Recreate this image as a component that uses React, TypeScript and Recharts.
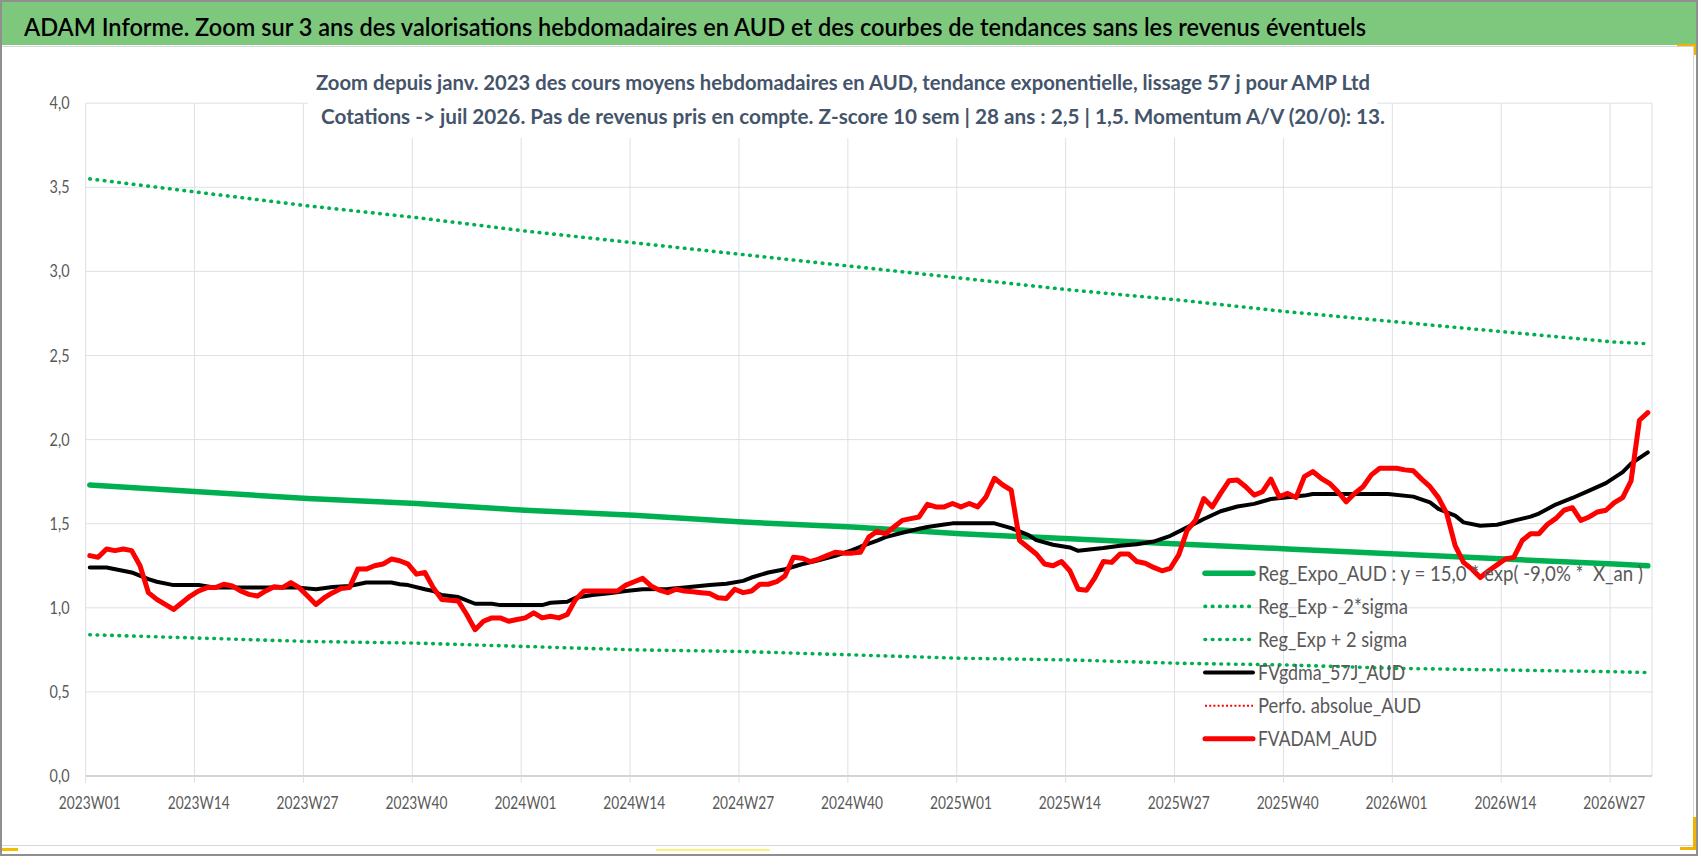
import React from "react";
import { CartesianGrid, Legend, Line, LineChart, XAxis, YAxis } from "recharts";

// weekly categories, 2023W01 -> 2026W31
const years = [2023, 2024, 2025, 2026];
const weeksInYear = [52, 52, 52, 31];
const weeks: string[] = years.flatMap((y, j) =>
    Array.from({ length: weeksInYear[j] }, (_, w) => `${y}W${String(w + 1).padStart(2, "0")}`)
);

const tickLabels = [
    "2023W01", "2023W14", "2023W27", "2023W40",
    "2024W01", "2024W14", "2024W27", "2024W40",
    "2025W01", "2025W14", "2025W27", "2025W40",
    "2026W01", "2026W14", "2026W27",
];
const yTicks = [0, 0.5, 1, 1.5, 2, 2.5, 3, 3.5, 4];

// FVADAM_AUD, one value per week
const fvadam = [
    1.31, 1.30, 1.35, 1.34, 1.35, 1.34, 1.25, 1.09, 1.05, 1.02,
    0.99, 1.03, 1.07, 1.10, 1.12, 1.12, 1.14, 1.13, 1.10, 1.08,
    1.07, 1.10, 1.125, 1.12, 1.15, 1.12, 1.07, 1.02, 1.06, 1.09,
    1.115, 1.12, 1.23, 1.23, 1.25, 1.26, 1.29, 1.28, 1.26, 1.20,
    1.21, 1.12, 1.05, 1.045, 1.04, 0.96, 0.87, 0.92, 0.94, 0.94,
    0.92, 0.93, 0.94, 0.97, 0.94, 0.95, 0.94, 0.96, 1.05, 1.10,
    1.10, 1.10, 1.10, 1.10, 1.135, 1.155, 1.175, 1.13, 1.105, 1.09,
    1.11, 1.10, 1.095, 1.09, 1.085, 1.06, 1.055, 1.11, 1.09, 1.10,
    1.14, 1.14, 1.155, 1.19, 1.30, 1.295, 1.275, 1.29, 1.31, 1.33,
    1.325, 1.325, 1.33, 1.42, 1.455, 1.44, 1.48, 1.52, 1.53, 1.54,
    1.615, 1.60, 1.60, 1.62, 1.60, 1.62, 1.60, 1.66, 1.77, 1.73,
    1.70, 1.40, 1.36, 1.32, 1.26, 1.25, 1.275, 1.22, 1.11, 1.105,
    1.18, 1.275, 1.27, 1.32, 1.32, 1.275, 1.265, 1.24, 1.22, 1.235,
    1.315, 1.46, 1.52, 1.65, 1.60, 1.68, 1.755, 1.76, 1.72, 1.67,
    1.69, 1.765, 1.66, 1.68, 1.655, 1.78, 1.81, 1.77, 1.74, 1.69,
    1.63, 1.68, 1.72, 1.79, 1.83, 1.83, 1.83, 1.82, 1.815, 1.765,
    1.72, 1.655, 1.56, 1.37, 1.27, 1.23, 1.18, 1.22, 1.255, 1.29,
    1.30, 1.40, 1.44, 1.44, 1.495, 1.53, 1.58, 1.595, 1.52, 1.54,
    1.57, 1.58, 1.625, 1.655, 1.755, 2.115, 2.16,
];

// FVgdma_57J_AUD, [week index, value]
const gdmaPoints: [number, number][] = [
    [0, 1.24], [2, 1.24], [5, 1.21], [7, 1.17], [8, 1.155], [10, 1.135], [13, 1.135], [15, 1.12],
    [19, 1.12], [25, 1.12], [27, 1.11], [29, 1.124], [31, 1.13], [33, 1.15], [36, 1.15], [37, 1.14],
    [38, 1.135], [40, 1.11], [41, 1.10], [42, 1.076], [44, 1.064], [46, 1.024], [48, 1.024], [49, 1.016],
    [54, 1.016], [55, 1.03], [57, 1.036], [58, 1.06], [60, 1.076], [62, 1.086], [64, 1.10], [66, 1.11],
    [69, 1.112], [71, 1.12], [74, 1.135], [76, 1.143], [78, 1.16], [79, 1.18], [81, 1.21], [83, 1.229],
    [85, 1.259], [87, 1.283], [89, 1.309], [91, 1.343], [92, 1.363], [94, 1.40], [95, 1.42], [97, 1.446],
    [99, 1.47], [100, 1.48], [102, 1.495], [103, 1.502], [108, 1.502], [110, 1.474], [112, 1.434], [113, 1.402],
    [115, 1.375], [117, 1.359], [118, 1.339], [121, 1.355], [123, 1.369], [125, 1.378], [127, 1.394], [129, 1.428],
    [131, 1.478], [133, 1.528], [135, 1.574], [137, 1.602], [139, 1.618], [141, 1.647], [143, 1.657], [145, 1.667],
    [146, 1.677], [155, 1.677], [158, 1.661], [160, 1.627], [161, 1.588], [163, 1.548], [164, 1.508], [166, 1.488],
    [168, 1.494], [170, 1.518], [172, 1.542], [173, 1.56], [175, 1.614], [177, 1.653], [179, 1.697], [181, 1.741],
    [183, 1.807], [184, 1.857], [186, 1.924],
];

// trend curves read at each labelled week + the last week
const trendWeeks = [...tickLabels, "2026W31"];
const regExpo = [1.73, 1.69, 1.65, 1.62, 1.58, 1.55, 1.51, 1.48, 1.44, 1.41, 1.38, 1.35, 1.32, 1.29, 1.26, 1.25];
const regLow = [0.84, 0.82, 0.80, 0.79, 0.77, 0.75, 0.74, 0.72, 0.70, 0.69, 0.67, 0.66, 0.64, 0.63, 0.62, 0.615];
const regHigh = [3.55, 3.47, 3.39, 3.32, 3.24, 3.17, 3.10, 3.03, 2.96, 2.89, 2.83, 2.76, 2.70, 2.64, 2.58, 2.57];

type Row = { x: number, week: string, adam: number | null, gdma: number | null,
    expo: number | null, lo: number | null, hi: number | null, perfo: number | null };

const data: Row[] = weeks.map((w, i) => ({
    x: i + 0.5, week: w, adam: fvadam[i] ?? null, gdma: null, expo: null, lo: null, hi: null, perfo: null,
}));
gdmaPoints.forEach(([i, v]) => { data[i].gdma = v; });
trendWeeks.forEach((w, j) => {
    const r = data[weeks.indexOf(w)];
    r.expo = regExpo[j];
    r.lo = regLow[j];
    r.hi = regHigh[j];
});
const tickIdx = tickLabels.map(l => weeks.indexOf(l));

const FONT = "Lato, 'Open Sans', sans-serif";
const GRID = "#dde0e6";

const series = [
    { key: "expo", name: "Reg_Expo_AUD : y = 15,0 * exp( -9,0% *  X_an )", color: "#00b050", width: 5.5, dash: undefined, textLen: 385 },
    { key: "lo", name: "Reg_Exp - 2*sigma", color: "#00b050", width: 3.6, dash: "0.6 6.7", textLen: 150 },
    { key: "hi", name: "Reg_Exp + 2 sigma", color: "#00b050", width: 3.6, dash: "0.6 6.7", textLen: 149 },
    { key: "gdma", name: "FVgdma_57J_AUD", color: "#000000", width: 4, dash: undefined, textLen: 147 },
    { key: "perfo", name: "Perfo. absolue_AUD", color: "#ff0000", width: 2, dash: "2 2.2", textLen: 163 },
    { key: "adam", name: "FVADAM_AUD", color: "#ff0000", width: 5, dash: undefined, textLen: 119 },
];

function XTick(props: any) {
    const { x, y, payload } = props;
    return (
        <text x={x + 4.2} y={y + 24} textAnchor="middle" fontFamily={FONT} fontSize={17} fill="#595959"
              textLength={62} lengthAdjust="spacingAndGlyphs">
            {weeks[payload.value]}
        </text>
    );
}

function YTick(props: any) {
    const { x, y, payload } = props;
    return (
        <text x={x} y={y + 6} textAnchor="end" fontFamily={FONT} fontSize={17} fill="#595959"
              textLength={20} lengthAdjust="spacingAndGlyphs">
            {Number(payload.value).toFixed(1).replace(".", ",")}
        </text>
    );
}

function LegendBox(props: any) {
    const payload: any[] = props.payload ?? [];
    const order = series.map(s => s.key);
    const items = [...payload].sort((a, b) => order.indexOf(a.dataKey) - order.indexOf(b.dataKey));
    return (
        <svg width={480} height={250} style={{ display: "block", overflow: "visible" }}>
            {items.map((it, i) => {
                const s = series.find(q => q.key === it.dataKey)!;
                const cy = 43.3 + i * 33.1;
                return (
                    <g key={s.key}>
                        <line x1={15} x2={63} y1={cy} y2={cy} stroke={s.color} strokeWidth={s.width}
                              strokeDasharray={s.dash} strokeLinecap={s.key === "perfo" ? "butt" : "round"} />
                        <text x={68} y={cy + 7.5} fontFamily={FONT} fontSize={21} fill="#595959"
                              textLength={s.textLen} lengthAdjust="spacingAndGlyphs" style={{ whiteSpace: "pre" }}>
                            {it.value}
                        </text>
                    </g>
                );
            })}
        </svg>
    );
}

const abs = (left: number, top: number, width: number, height: number, extra: React.CSSProperties = {}): React.CSSProperties =>
    ({ position: "absolute", left, top, width, height, ...extra });

export default function App() {
    return (
        <div style={abs(0, 0, 1698, 856, { background: "#ffffff", overflow: "hidden" })}>
            <div style={abs(0, 0, 1698, 856, { boxSizing: "border-box", border: "2px solid #8f8f8f" })} />
            <div style={abs(2, 46, 1692, 800, { boxSizing: "border-box", borderTop: "1px solid #d6d6d6", borderRight: "1px solid #d6d6d6", borderBottom: "1px solid #d6d6d6" })} />
            <div style={abs(2, 2, 1694, 43, { background: "#7ec87e" })} />
            <svg style={abs(0, 0, 1698, 50)}>
                <text x={24} y={36} fontFamily={FONT} fontWeight={600} fontSize={25} fill="#000000" textLength={1342} lengthAdjust="spacingAndGlyphs">
                    ADAM Informe. Zoom sur 3 ans des valorisations hebdomadaires en AUD et des courbes de tendances sans les revenus éventuels
                </text>
            </svg>

            <div style={abs(0, 0, 1698, 856)}>
                <LineChart width={1698} height={856} data={data}
                           margin={{ top: 103.2, right: 46, bottom: 40, left: 25.6 }}>
                    <CartesianGrid stroke={GRID} strokeWidth={1} />
                    <XAxis type="number" dataKey="x" domain={[0, weeks.length]} ticks={tickIdx} interval={0}
                           height={40} tickSize={7} tickLine={{ stroke: GRID }}
                           axisLine={{ stroke: "#d4d4d4", strokeWidth: 2 }} tick={<XTick />} />
                    <YAxis type="number" domain={[0, 4]} ticks={yTicks} width={60} axisLine={false} tickLine={false}
                           tickSize={0} tickMargin={16} tick={<YTick />} />
                    {series.map(s => (
                        <Line key={s.key} type="linear" dataKey={s.key} name={s.name} stroke={s.color}
                              strokeWidth={s.width} strokeDasharray={s.dash}
                              strokeLinecap="round" strokeLinejoin="round"
                              dot={false} activeDot={false} connectNulls isAnimationActive={false} />
                    ))}
                    <Legend layout="horizontal" align="center" verticalAlign="middle" content={<LegendBox />}
                            wrapperStyle={{ left: 1190, top: 530, width: 480, height: 250 }} />
                </LineChart>
            </div>

            <div style={abs(308, 48, 1069, 90, { background: "#ffffff" })} />
            <svg style={abs(0, 0, 1698, 140)}>
                <text x={316} y={89.5} fontFamily={FONT} fontWeight={700} fontSize={21.5} fill="#44546a"
                      textLength={1054} lengthAdjust="spacingAndGlyphs">
                    Zoom depuis janv. 2023 des cours moyens hebdomadaires en AUD, tendance exponentielle, lissage 57 j pour AMP Ltd
                </text>
                <text x={321} y={124} fontFamily={FONT} fontWeight={700} fontSize={21.5} fill="#44546a"
                      textLength={1064} lengthAdjust="spacingAndGlyphs">
                    Cotations -&gt; juil 2026. Pas de revenus pris en compte. Z-score 10 sem | 28 ans : 2,5 | 1,5. Momentum A/V (20/0): 13.
                </text>
            </svg>

            {/* selection handles of the chart object */}
            <div style={abs(1677, 44, 19, 2, { background: "#f0b400" })} />
            <div style={abs(1694, 44, 2, 11, { background: "#f0b400" })} />
            <div style={abs(1693, 817, 3, 33, { background: "#f0b400" })} />
            <div style={abs(1680, 847, 16, 3, { background: "#f0b400" })} />
            <div style={abs(2, 848, 16, 3, { background: "#f0c000" })} />
            <div style={abs(656, 849, 114, 2, { background: "#fff27a" })} />
        </div>
    );
}
